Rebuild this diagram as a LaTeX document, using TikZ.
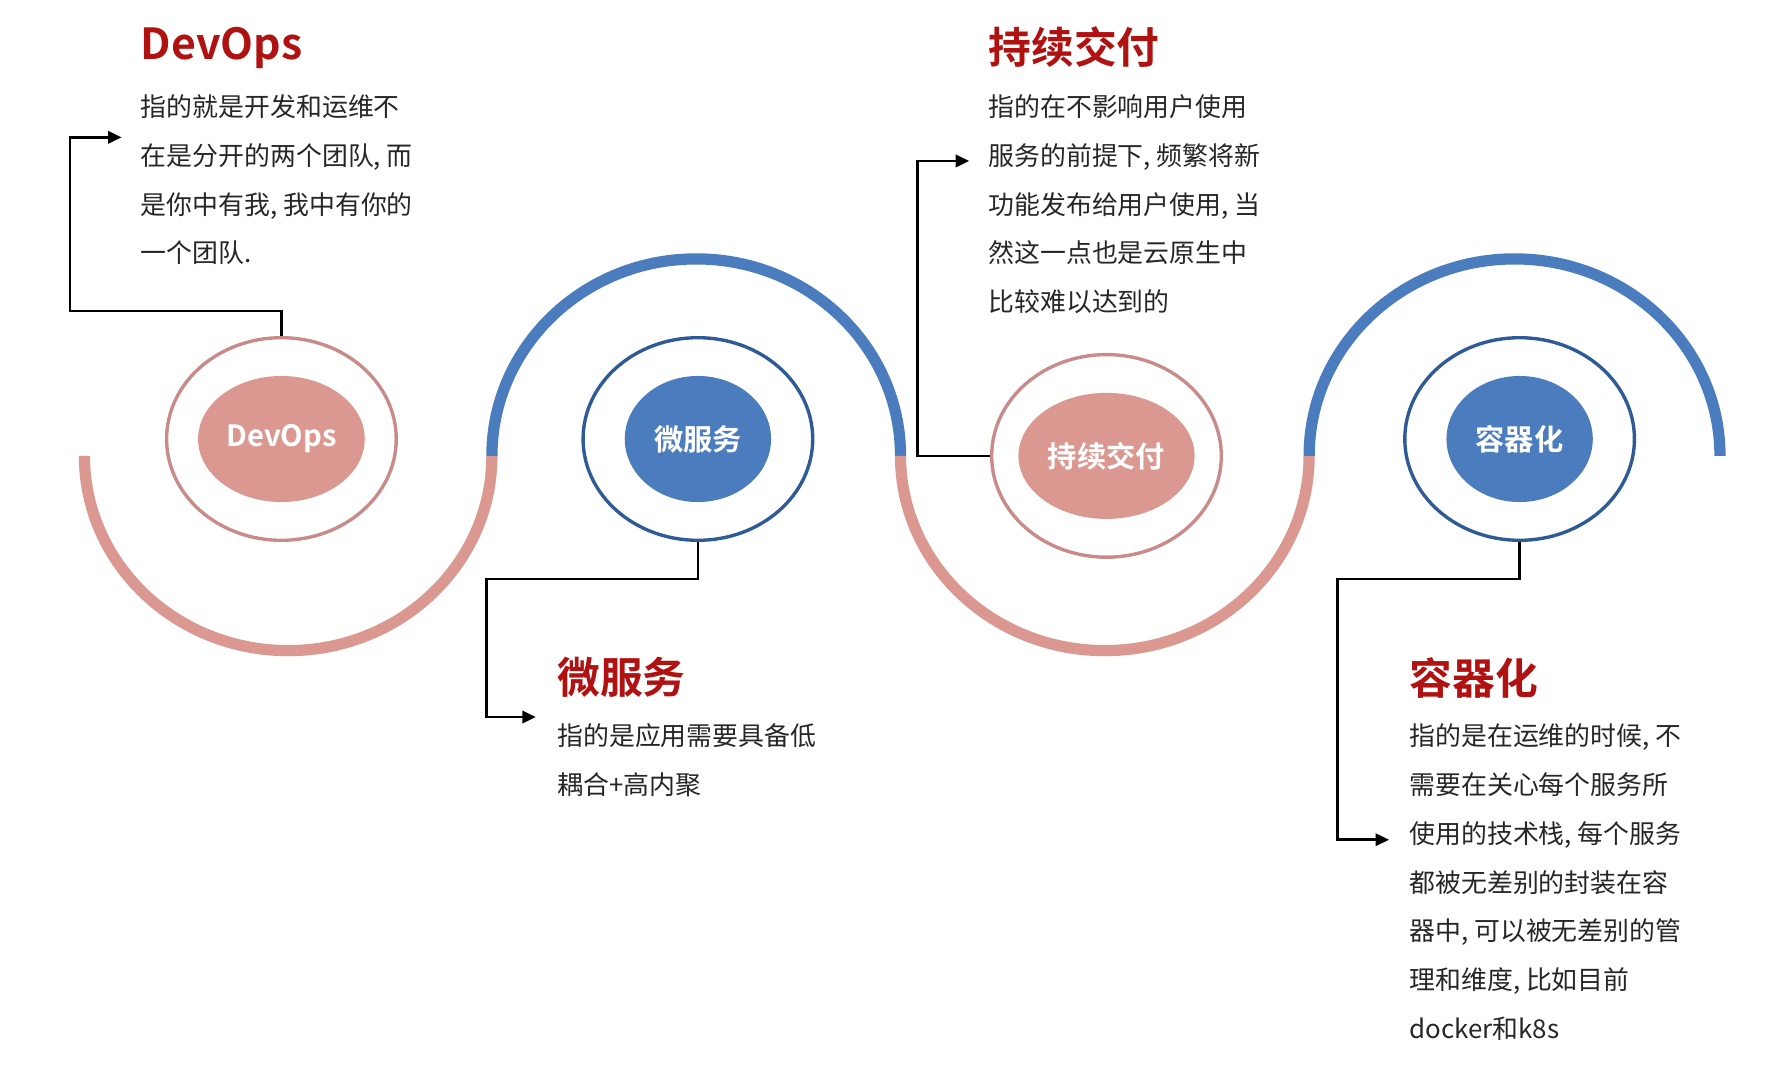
\documentclass[tikz,border=0pt]{standalone}
\usepackage{fontspec}
\setmainfont{Noto Sans CJK SC}
\newfontfamily\cjkb{Noto Sans CJK SC Bold}
\usetikzlibrary{arrows.meta}
\definecolor{pinkc}{HTML}{DB9890}
\definecolor{pinkline}{HTML}{C98A8A}
\definecolor{bluec}{HTML}{4B7DBE}
\definecolor{blueline}{HTML}{2E5A96}
\definecolor{titlered}{HTML}{B01212}
\tikzset{
  wavep/.style={pinkc,line width=10pt},
  waveb/.style={bluec,line width=10pt},
  outerp/.style={ellipse,draw=pinkline,line width=3pt,minimum width=204pt,minimum height=180pt},
  outerb/.style={ellipse,draw=blueline,line width=3pt,minimum width=204pt,minimum height=180pt},
  innerp/.style={ellipse,fill=pinkc,minimum width=130pt,minimum height=112pt,text=white,font=\cjkb\fontsize{26}{30}\selectfont},
  innerb/.style={ellipse,fill=bluec,minimum width=130pt,minimum height=112pt,text=white,font=\cjkb\fontsize{26}{30}\selectfont},
  ttl/.style={anchor=west,text=titlered,font=\cjkb\fontsize{38}{44}\selectfont,inner sep=0pt},
  body/.style={anchor=north west,align=left,font=\fontsize{23}{43.3}\selectfont,inner sep=0pt,text=black!85},
  conn/.style={line width=2.2pt,-{Triangle[length=12pt,width=11pt]}},
}
\usetikzlibrary{shapes.geometric}
\begin{document}
\begin{tikzpicture}[x=1pt,y=-1pt]
\useasboundingbox (0,0) rectangle (1568,966);
% waves
\draw[wavep] (75,405) arc[start angle=180,end angle=0,x radius=181,y radius=173];
\draw[waveb] (437,405) arc[start angle=180,end angle=360,x radius=181.5,y radius=175];
\draw[wavep] (800,405) arc[start angle=180,end angle=0,x radius=181.5,y radius=173];
\draw[waveb] (1163,405) arc[start angle=180,end angle=360,x radius=182.5,y radius=175];
% circles
\node[outerp] (o1) at (250,390) {};
\node[innerp] (i1) at (250,390) {DevOps};
\node[outerb] (o2) at (620,390) {};
\node[innerb] (i2) at (620,390) {微服务};
\node[outerp] (o3) at (983,405) {};
\node[innerp] (i3) at (983,405) {持续交付};
\node[outerb] (o4) at (1350,390) {};
\node[innerb] (i4) at (1350,390) {容器化};
% texts
\node[ttl] (t1) at (125,43) {DevOps};
\node[body] (b1) at (125,84) {指的就是开发和运维不\\在是分开的两个团队, 而\\是你中有我, 我中有你的\\一个团队.};
\node[ttl] (t3) at (878,42) {持续交付};
\node[body] (b3) at (878,84) {指的在不影响用户使用\\服务的前提下, 频繁将新\\功能发布给用户使用, 当\\然这一点也是云原生中\\比较难以达到的};
\node[ttl] (t2) at (495,602) {微服务};
\node[body] (b2) at (495,643) {指的是应用需要具备低\\耦合+高内聚};
\node[ttl] (t4) at (1252,602) {容器化};
\node[body] (b4) at (1252,643) {指的是在运维的时候, 不\\需要在关心每个服务所\\使用的技术栈, 每个服务\\都被无差别的封装在容\\器中, 可以被无差别的管\\理和维度, 比如目前\\docker和k8s};
% connectors
\coordinate (e1) at (108,122);
\coordinate (e2) at (476,637);
\coordinate (e3) at (861,143);
\coordinate (e4) at (1234,746);
\draw[conn] (o1.north) -- ++(0,-22) -| (62,122) -- (e1);
\draw[conn] (o2.south) -- ++(0,33) -| (432,637) -- (e2);
\draw[conn] (o3.west) -- (815,405) |- (e3);
\draw[conn] (o4.south) -- ++(0,33) -| (1188,746) -- (e4);
\end{tikzpicture}
\end{document}
